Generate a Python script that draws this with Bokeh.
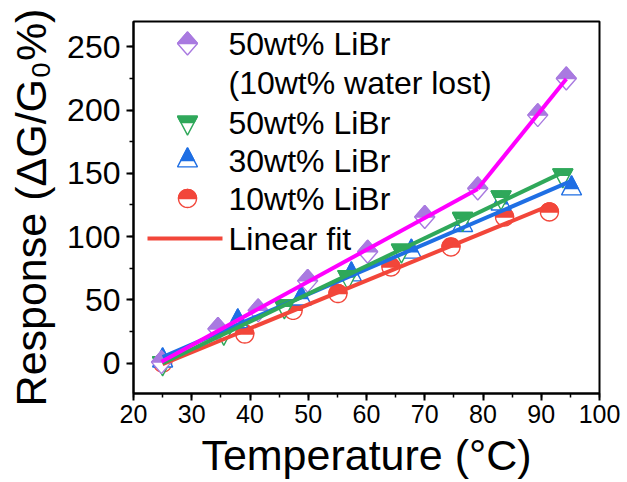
import numpy as np
from bokeh.plotting import figure
from bokeh.models import ColumnDataSource, SingleIntervalTicker, Range1d
from bokeh.core.properties import value
from bokeh.embed import file_html
from bokeh.resources import INLINE

# ---------------- data ----------------
temp_lost = [24.8, 34.5, 41.4, 49.9, 60.2, 70.0, 79.1, 89.4, 94.3]
resp_lost = [0.8, 27.0, 41.7, 65.0, 88.0, 115.5, 138.0, 196.0, 225.0]

temp_50 = [25.0, 35.5, 45.9, 56.8, 66.0, 76.5, 83.1, 93.7]
resp_50 = [0.0, 24.0, 45.0, 68.0, 89.0, 114.0, 131.0, 148.5]

temp_30 = [25.0, 37.9, 48.8, 57.4, 67.7, 76.5, 83.1, 95.2]
resp_30 = [2.0, 33.0, 51.0, 70.0, 88.0, 109.0, 126.0, 138.0]

temp_10 = [25.0, 39.1, 47.4, 55.1, 64.2, 74.5, 83.7, 91.4]
resp_10 = [0.0, 23.0, 41.7, 55.0, 76.0, 91.8, 115.5, 119.5]

legend_labels = ["50wt% LiBr", "(10wt% water lost)", "50wt% LiBr",
                 "30wt% LiBr", "10wt% LiBr", "Linear fit"]
x_label = "Temperature (°C)"
y_label = "Response (ΔG/G₀%)"

# ---------------- layout constants ----------------
X0, X1 = 20, 100
Y0, Y1 = -24, 270
FW, FH = 466, 372
BL, BR, BT, BB = 133, 28, 21, 89
kx = (X1 - X0) / FW   # data units per px
ky = (Y1 - Y0) / FH

C_PURPLE = "#a97ae0"
C_MAGENTA = "#ff00ff"
C_GREEN = "#2fa85a"
C_BLUE = "#1f6fe4"
C_RED = "#f2463a"

p = figure(frame_width=FW, frame_height=FH, output_backend="svg",
           toolbar_location=None, x_range=Range1d(X0, X1), y_range=Range1d(Y0, Y1),
           min_border_left=BL, min_border_right=BR, min_border_top=BT,
           min_border_bottom=BB)
p.background_fill_color = "white"
p.border_fill_color = "white"
p.outline_line_color = "black"
p.outline_line_width = 2
p.xgrid.visible = False
p.ygrid.visible = False

p.xaxis.ticker = SingleIntervalTicker(interval=10, num_minor_ticks=2)
p.yaxis.ticker = SingleIntervalTicker(interval=50, num_minor_ticks=2)
for ax in (p.xaxis, p.yaxis):
    ax.axis_line_width = 2
    ax.major_tick_line_width = 2
    ax.minor_tick_line_width = 1.5
    ax.major_tick_in = 0
    ax.major_tick_out = 7
    ax.minor_tick_in = 0
    ax.minor_tick_out = 4
    ax.major_label_text_font = "Liberation Sans"
    ax.axis_label_text_font = "Liberation Sans"
    ax.axis_label_text_font_style = "normal"
    ax.major_label_text_color = "black"
    ax.axis_label_text_color = "black"
p.xaxis.major_label_text_font_size = "25px"
p.yaxis.major_label_text_font_size = "32px"
p.xaxis.axis_label = x_label
p.yaxis.axis_label = y_label
p.xaxis.axis_label_text_font_size = "43px"
p.yaxis.axis_label_text_font_size = "43px"
p.xaxis.major_label_standoff = 4
p.yaxis.major_label_standoff = 6
p.xaxis.axis_label_standoff = 5
p.yaxis.axis_label_standoff = 9


# ---------------- half-filled marker shapes (px offsets, y up) ----------------
def outline_shape(kind):
    if kind == "diamond":
        return [(0, 11.5), (10, 0), (0, -11.5), (-10, 0)]
    if kind == "tri_up":
        h = 19.0
        return [(-10, -h / 3), (10, -h / 3), (0, 2 * h / 3)]
    if kind == "tri_down":
        h = 19.0
        return [(-10, h / 3), (10, h / 3), (0, -2 * h / 3)]
    a = np.linspace(0, 2 * np.pi, 41)
    return list(zip(9 * np.cos(a), 9 * np.sin(a)))


def top_shape(kind):
    if kind == "diamond":
        return [(0, 11.5), (10, 0), (-10, 0)]
    if kind == "tri_up":
        h = 19.0
        return [(-20 / 3, 0), (20 / 3, 0), (0, 2 * h / 3)]
    if kind == "tri_down":
        h = 19.0
        return [(-10, h / 3), (10, h / 3), (20 / 3, 0), (-20 / 3, 0)]
    a = np.linspace(0, np.pi, 21)
    return list(zip(9 * np.cos(a), 9 * np.sin(a)))


def polys(xc, yc, shape):
    xs = [[x + dx * kx for dx, dy in shape] for x in xc]
    ys = [[y + dy * ky for dx, dy in shape] for y in yc]
    return xs, ys


def half_markers(xc, yc, kind, color):
    xs, ys = polys(xc, yc, outline_shape(kind))
    p.patches(xs, ys, fill_color="white", line_color=color, line_width=1.4)
    xs, ys = polys(xc, yc, top_shape(kind))
    p.patches(xs, ys, fill_color=color, line_color=color, line_width=1.4)


half_markers(temp_10, resp_10, "circle", C_RED)
half_markers(temp_30, resp_30, "tri_up", C_BLUE)
half_markers(temp_50, resp_50, "tri_down", C_GREEN)
half_markers(temp_lost, resp_lost, "diamond", C_PURPLE)


# ---------------- linear fits ----------------
def fit_line(t, r):
    k, b = np.polyfit(t, r, 1)
    xs = [min(t), max(t)]
    return xs, [k * x + b for x in xs]


for t, r, c in [(temp_10, resp_10, C_RED), (temp_30, resp_30, C_BLUE),
                (temp_50, resp_50, C_GREEN),
                (temp_lost[:7], resp_lost[:7], C_MAGENTA),
                (temp_lost[6:], resp_lost[6:], C_MAGENTA)]:
    xs, ys = fit_line(t, r)
    p.line(xs, ys, line_color=c, line_width=4)


# ---------------- legend (drawn manually, positions in px) ----------------
def sx(px):
    return X0 + (px - BL) * kx


def sy(py):
    return Y1 - (py - BT) * ky


leg_marker_x = 187
leg_rows = [43, 82, 122, 160, 198, 238]
leg_kinds = [("diamond", C_PURPLE, 0), ("tri_down", C_GREEN, 2),
             ("tri_up", C_BLUE, 3), ("circle", C_RED, 4)]
for kind, col, row in leg_kinds:
    half_markers([sx(leg_marker_x)], [sy(leg_rows[row])], kind, col)
p.line([sx(147), sx(222)], [sy(leg_rows[5]), sy(leg_rows[5])],
       line_color=C_RED, line_width=4)

src = ColumnDataSource(dict(x=[sx(228)] * len(legend_labels),
                            y=[sy(v) for v in leg_rows],
                            t=legend_labels))
p.text(x="x", y="y", text="t", source=src, text_font=value("Liberation Sans"),
       text_font_size=value("32px"), text_baseline="middle", text_align="left",
       text_color="black")

open("out.html", "w").write(file_html(p, INLINE))
